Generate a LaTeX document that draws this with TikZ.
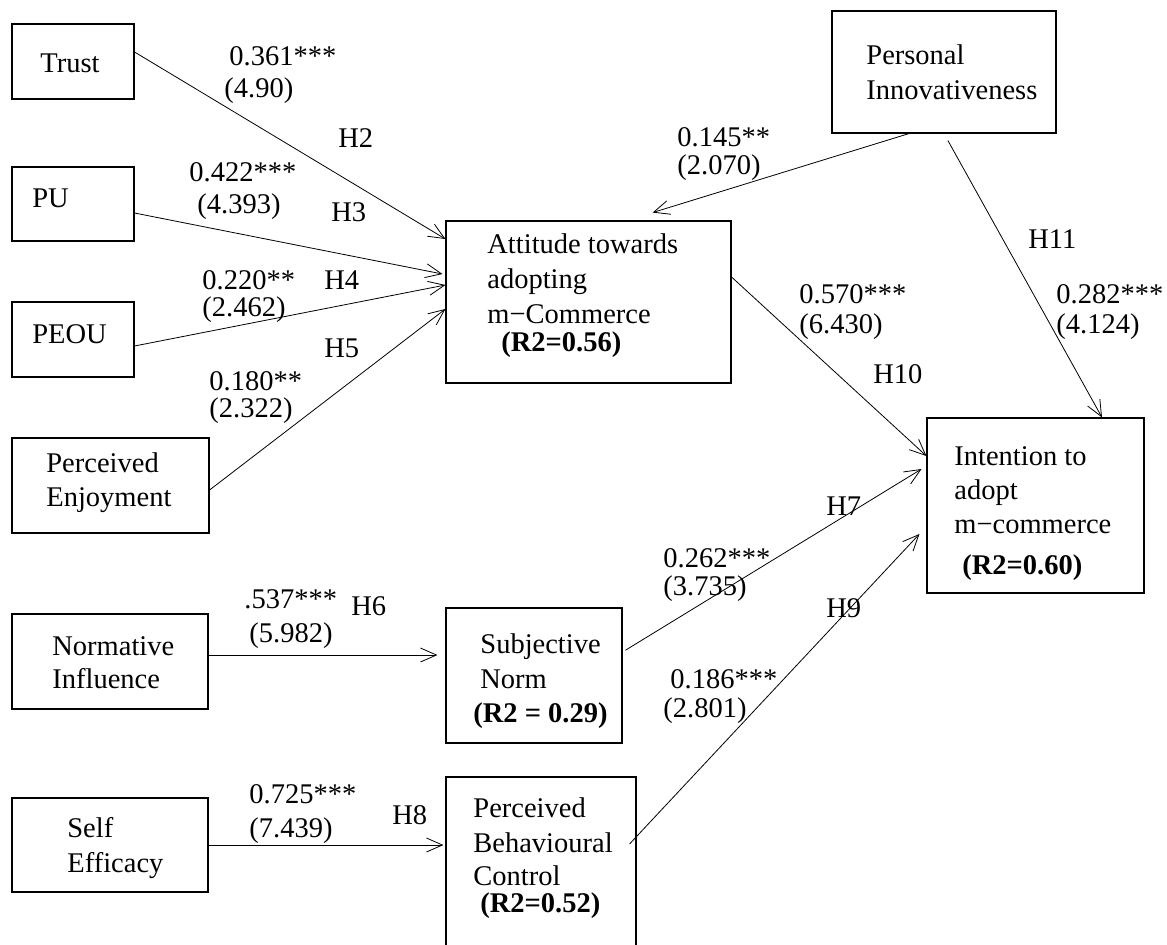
\documentclass[tikz,border=0pt]{standalone}
\usepackage{fontspec}
\setmainfont{Liberation Serif}
\usetikzlibrary{arrows.meta,fit,calc}
\begin{document}
\begin{tikzpicture}[x=0.5pt,y=-0.5pt,
  box/.style={draw, line width=0.55pt, inner sep=0pt},
  lbl/.style={anchor=base west, inner sep=0pt, font=\fontsize{14.25}{17}\selectfont},
  lblb/.style={lbl, font=\fontsize{14.25}{17}\selectfont\bfseries},
  arr/.style={line width=0.4pt, -{Straight Barb[length=8pt,width=7pt]}}]
\useasboundingbox (0,0) rectangle (1167,944);
% boxes
\node[box, fit={(12,24) (134,99)}] (trust) {};
\node[box, fit={(12,167) (134,241)}] (pu) {};
\node[box, fit={(12,302) (134,377)}] (peou) {};
\node[box, fit={(12,438) (209,533)}] (enj) {};
\node[box, fit={(12,614) (208,709)}] (ni) {};
\node[box, fit={(12,798) (208,892)}] (se) {};
\node[box, fit={(446,221) (731,383)}] (att) {};
\node[box, fit={(832,11) (1056,133)}] (pi) {};
\node[box, fit={(927,418) (1144,593)}] (int) {};
\node[box, fit={(446,608) (622,743)}] (sn) {};
\node[box, fit={(446,777) (636,970)}] (pbc) {};
% box texts
\node[lbl] (tTrust) at (40,72) {Trust};
\node[lbl] (tPU) at (32,207) {PU};
\node[lbl] (tPEOU) at (32,343) {PEOU};
\node[lbl] (tEnj1) at (46,472) {Perceived};
\node[lbl] (tEnj2) at (46,506) {Enjoyment};
\node[lbl] (tNI1) at (52,655) {Normative};
\node[lbl] (tNI2) at (52,688) {Influence};
\node[lbl] (tSE1) at (67,837) {Self};
\node[lbl] (tSE2) at (67,872) {Efficacy};
\node[lbl] (tAtt1) at (487,253) {Attitude towards};
\node[lbl] (tAtt2) at (487,288) {adopting};
\node[lbl] (tAtt3) at (487,323) {m\symbol{"2212}Commerce};
\node[lblb] (tAtt4) at (501,351) {(R2=0.56)};
\node[lbl] (tPI1) at (866,64) {Personal};
\node[lbl] (tPI2) at (866,99) {Innovativeness};
\node[lbl] (tInt1) at (954,465) {Intention to};
\node[lbl] (tInt2) at (954,499) {adopt};
\node[lbl] (tInt3) at (954,533) {m\symbol{"2212}commerce};
\node[lblb] (tInt4) at (962,574) {(R2=0.60)};
\node[lbl] (tSN1) at (480,653) {Subjective};
\node[lbl] (tSN2) at (480,688) {Norm};
\node[lblb] (tSN3) at (473,722) {(R2 = 0.29)};
\node[lbl] (tPBC1) at (473,817) {Perceived};
\node[lbl] (tPBC2) at (473,852) {Behavioural};
\node[lbl] (tPBC3) at (473,885) {Control};
\node[lblb] (tPBC4) at (480,912) {(R2=0.52)};
% path labels
\node[lbl] (c1) at (229,65) {0.361***};
\node[lbl] (t1) at (224,97) {(4.90)};
\node[lbl] (h2) at (338,147) {H2};
\node[lbl] (c2) at (189,181) {0.422***};
\node[lbl] (t2) at (197,213) {(4.393)};
\node[lbl] (h3) at (331,221) {H3};
\node[lbl] (c3) at (202,289) {0.220**};
\node[lbl] (t3) at (202,316) {(2.462)};
\node[lbl] (h4) at (324,289) {H4};
\node[lbl] (h5) at (324,357) {H5};
\node[lbl] (c4) at (209,390) {0.180**};
\node[lbl] (t4) at (209,417) {(2.322)};
\node[lbl] (c5) at (677,146) {0.145**};
\node[lbl] (t5) at (677,174) {(2.070)};
\node[lbl] (h11) at (1028,248) {H11};
\node[lbl] (c6) at (799,303) {0.570***};
\node[lbl] (t6) at (799,333) {(6.430)};
\node[lbl] (c7) at (1056,303) {0.282***};
\node[lbl] (t7) at (1056,333) {(4.124)};
\node[lbl] (h10) at (873,383) {H10};
\node[lbl] (h7) at (826,515) {H7};
\node[lbl] (c8) at (663,567) {0.262***};
\node[lbl] (t8) at (663,595) {(3.735)};
\node[lbl] (h9) at (826,617) {H9};
\node[lbl] (c9) at (244,608) {.537***};
\node[lbl] (h6) at (351,615) {H6};
\node[lbl] (t9) at (249,642) {(5.982)};
\node[lbl] (c10) at (670,688) {0.186***};
\node[lbl] (t10) at (663,717) {(2.801)};
\node[lbl] (c11) at (249,803) {0.725***};
\node[lbl] (t11) at (249,837) {(7.439)};
\node[lbl] (h8) at (392,824) {H8};
% connectors
\draw[arr] (trust.east |- 0,52) -- (att.west |- 0,239);
\draw[arr, shorten >=1.5pt] (pu.east |- 0,213) -- (att.west |- 0,274.6);
\draw[arr] (peou.east |- 0,346) -- (att.west |- 0,285);
\draw[arr] (enj.east |- 0,490) -- (att.west |- 0,309);
\draw[arr, shorten >=13.4pt] (pi.south -| 909,0) -- (att.north -| 627,0);
\draw[arr, shorten <=4pt] (pi.south -| 944,0) -- (int.north -| 1102,0);
\draw[arr] (att.east |- 0,277) -- (int.west |- 0,456);
\draw[arr, shorten >=2.9pt, shorten <=1.75pt] (sn.east |- 0,652) -- (int.west |- 0,466);
\draw[arr, shorten >=5.1pt, shorten <=-5.1pt] (pbc.east |- 0,836.5) -- (int.west |- 0,526.5);
\draw[arr, shorten >=4pt] (ni.east |- 0,655) -- (sn.west |- 0,655);
\draw[arr, shorten >=1pt] (se.east |- 0,845) -- (pbc.west |- 0,845);
\end{tikzpicture}
\end{document}
